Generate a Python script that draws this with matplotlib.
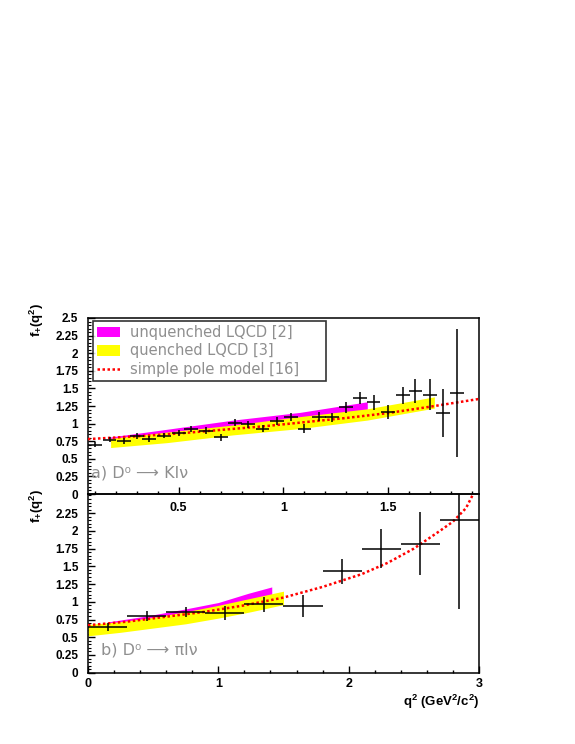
import matplotlib
matplotlib.use("Agg")
import matplotlib.pyplot as plt
from matplotlib.patches import Patch
from matplotlib.lines import Line2D

plt.rcParams["font.family"] = ["Liberation Sans", "DejaVu Sans"]
plt.rcParams["mathtext.fontset"] = "custom"
plt.rcParams["mathtext.rm"] = "Liberation Sans"
plt.rcParams["mathtext.bf"] = "Liberation Sans:bold"
plt.rcParams["mathtext.it"] = "Liberation Sans:italic"

# -----------------------------
# a) D0 -> K l nu  (values read off the picture)
# -----------------------------
q2_k = [0.10, 0.17, 0.24, 0.30, 0.36, 0.43, 0.50, 0.56, 0.63, 0.70, 0.77, 0.83, 0.90, 0.97,
        1.035, 1.10, 1.17, 1.23, 1.30, 1.365, 1.43, 1.50, 1.57, 1.63, 1.70, 1.76, 1.83]
f_k = [0.70, 0.77, 0.75, 0.82, 0.78, 0.83, 0.87, 0.92, 0.90, 0.805, 1.01, 0.99, 0.93, 1.04,
       1.09, 0.93, 1.10, 1.09, 1.23, 1.37, 1.30, 1.17, 1.40, 1.46, 1.41, 1.15, 1.44]
ferr_k = [0.035, 0.035, 0.04, 0.04, 0.04, 0.04, 0.045, 0.045, 0.045, 0.05, 0.05, 0.05, 0.055, 0.055,
          0.06, 0.06, 0.07, 0.065, 0.08, 0.085, 0.105, 0.10, 0.12, 0.17, 0.22, 0.34, 0.91]
q2err_k = 0.033

unq_q2_k = [0.175, 0.445, 0.76, 1.08, 1.40]
unq_hi_k = [0.81, 0.92, 1.05, 1.16, 1.31]
unq_lo_k = [0.72, 0.82, 0.94, 1.05, 1.19]

que_q2_k = [0.175, 0.445, 0.76, 1.08, 1.40, 1.72]
que_hi_k = [0.79, 0.88, 0.98, 1.10, 1.21, 1.38]
que_lo_k = [0.66, 0.73, 0.84, 0.93, 1.05, 1.22]

pole_q2_k = [0.067, 0.3, 0.5, 0.7, 0.9, 1.1, 1.3, 1.5, 1.7, 1.933]
pole_f_k = [0.78, 0.82, 0.86, 0.91, 0.96, 1.02, 1.08, 1.15, 1.24, 1.35]

# -----------------------------
# b) D0 -> pi l nu
# -----------------------------
q2_pi = [0.15, 0.45, 0.75, 1.05, 1.35, 1.65, 1.95, 2.25, 2.55, 2.85]
f_pi = [0.64, 0.80, 0.855, 0.84, 0.965, 0.94, 1.43, 1.75, 1.82, 2.15]
ferr_pi = [0.055, 0.065, 0.075, 0.095, 0.105, 0.15, 0.18, 0.275, 0.44, 1.25]
q2err_pi = 0.15

unq_q2_pi = [0.166, 0.45, 0.75, 1.0, 1.23, 1.41]
unq_hi_pi = [0.72, 0.80, 0.90, 0.99, 1.12, 1.21]
unq_lo_pi = [0.64, 0.70, 0.78, 0.86, 0.98, 1.08]

que_q2_pi = [0.0, 0.25, 0.5, 0.75, 1.0, 1.25, 1.5]
que_hi_pi = [0.68, 0.72, 0.78, 0.86, 0.95, 1.05, 1.15]
que_lo_pi = [0.52, 0.57, 0.63, 0.69, 0.77, 0.86, 0.96]

pole_q2_pi = [0.0, 0.3, 0.6, 0.9, 1.2, 1.5, 1.8, 2.1, 2.3, 2.5, 2.7, 2.8, 2.9, 2.95]
pole_f_pi = [0.67, 0.72, 0.79, 0.86, 0.95, 1.06, 1.21, 1.39, 1.55, 1.75, 2.0, 2.13, 2.32, 2.5]

y_ticks = [0, 0.25, 0.5, 0.75, 1, 1.25, 1.5, 1.75, 2, 2.25, 2.5]
y_labels = ["0", "0.25", "0.5", "0.75", "1", "1.25", "1.5", "1.75", "2", "2.25", "2.5"]
legend_labels = ["unquenched LQCD [2]", "quenched LQCD [3]", "simple pole model [16]"]

MAGENTA = "#ff00ff"
YELLOW = "#ffff00"
GREY = "#8f8f8f"
POLE_STYLE = dict(color="red", lw=1.8, linestyle=(0, (1, 1)))

fig = plt.figure(figsize=(5.75, 7.44), dpi=100)
ax1 = fig.add_axes([0.153, 0.336, 0.680, 0.2366])
ax2 = fig.add_axes([0.153, 0.0958, 0.680, 0.2402])
ax2.set_facecolor("none")


def draw_panel(ax, q2, f, ferr, q2err, uq, uhi, ulo, qq, qhi, qlo, pq, pf):
    ax.fill_between(uq, ulo, uhi, color=MAGENTA, lw=0, zorder=1)
    ax.fill_between(qq, qlo, qhi, color=YELLOW, lw=0, zorder=2)
    ax.plot(pq, pf, zorder=3, **POLE_STYLE)
    ax.errorbar(q2, f, xerr=q2err, yerr=ferr, fmt="none", ecolor="black",
                elinewidth=1.1, capsize=0, zorder=4)
    for s in ax.spines.values():
        s.set_linewidth(1.1)
    ax.set_yticks(y_ticks)
    ax.set_yticklabels(y_labels, fontweight="bold", fontsize=8.5)
    ax.set_yticks([i * 0.05 for i in range(51)], minor=True)
    ax.tick_params(axis="y", which="both", direction="in", pad=7)
    ax.tick_params(axis="y", which="major", length=5, width=1)
    ax.tick_params(axis="y", which="minor", length=2.5, width=0.8)
    ax.tick_params(axis="x", which="both", direction="in", width=1)
    ax.tick_params(axis="x", which="major", length=5)
    ax.tick_params(axis="x", which="minor", length=2.5)


# top panel
draw_panel(ax1, q2_k, f_k, ferr_k, q2err_k, unq_q2_k, unq_hi_k, unq_lo_k,
           que_q2_k, que_hi_k, que_lo_k, pole_q2_k, pole_f_k)
ax1.set_xlim(0.067, 1.933)
ax1.set_ylim(0, 2.5)
ax1.set_xticks([0.5, 1.0, 1.5])
ax1.set_xticklabels(["0.5", "1", "1.5"], fontweight="bold", fontsize=9)
ax1.set_xticks([i * 0.1 for i in range(1, 20)], minor=True)
ax1.tick_params(axis="x", which="major", pad=6)

handles = [Patch(facecolor=MAGENTA, edgecolor="none"),
           Patch(facecolor=YELLOW, edgecolor="none"),
           Line2D([], [], **POLE_STYLE)]
leg = ax1.legend(handles, legend_labels, loc="upper left",
                 bbox_to_anchor=(0.013, 0.642, 0.596, 0.341), mode="expand",
                 frameon=True, fancybox=False, edgecolor="black",
                 prop={"family": "DejaVu Sans", "size": 10.5},
                 handlelength=1.55, handleheight=0.75, handletextpad=0.7,
                 labelspacing=0.23, borderpad=0.28, borderaxespad=0)
leg.get_frame().set_linewidth(1.2)
for t in leg.get_texts():
    t.set_color(GREY)

ax1.text(0.008, 0.12, "a) D\u2070 \u27f6 Kl\u03bd", transform=ax1.transAxes,
         ha="left", va="center", fontsize=11.5, color=GREY,
         family=["DejaVu Sans"])
ax1.text(-0.13, 1.085, r"$\mathbf{f_{+}(q^{2})}$", transform=ax1.transAxes,
         rotation=90, ha="center", va="top", fontsize=9.5)

# bottom panel
draw_panel(ax2, q2_pi, f_pi, ferr_pi, q2err_pi, unq_q2_pi, unq_hi_pi, unq_lo_pi,
           que_q2_pi, que_hi_pi, que_lo_pi, pole_q2_pi, pole_f_pi)
ax2.set_xlim(0, 3)
ax2.set_ylim(0, 2.52)
ax2.set_yticks(y_ticks[:-1])
ax2.set_yticklabels(y_labels[:-1], fontweight="bold", fontsize=8.5)
ax2.set_xticks([0, 1, 2, 3])
ax2.set_xticklabels(["0", "1", "2", "3"], fontweight="bold", fontsize=9)
ax2.set_xticks([i * 0.2 for i in range(16)], minor=True)
ax2.tick_params(axis="x", which="major", pad=4)

ax2.text(0.033, 0.127, "b) D\u2070 \u27f6 \u03c0l\u03bd", transform=ax2.transAxes,
         ha="left", va="center", fontsize=11.5, color=GREY,
         family=["DejaVu Sans"])
ax2.text(-0.13, 1.028, r"$\mathbf{f_{+}(q^{2})}$", transform=ax2.transAxes,
         rotation=90, ha="center", va="top", fontsize=9.5)
ax2.set_xlabel(r"$\mathbf{q^{2}\ (GeV^{2}/c^{2})}$", loc="right", fontsize=9.5,
               labelpad=2)

fig.savefig("out.png", dpi=100)
